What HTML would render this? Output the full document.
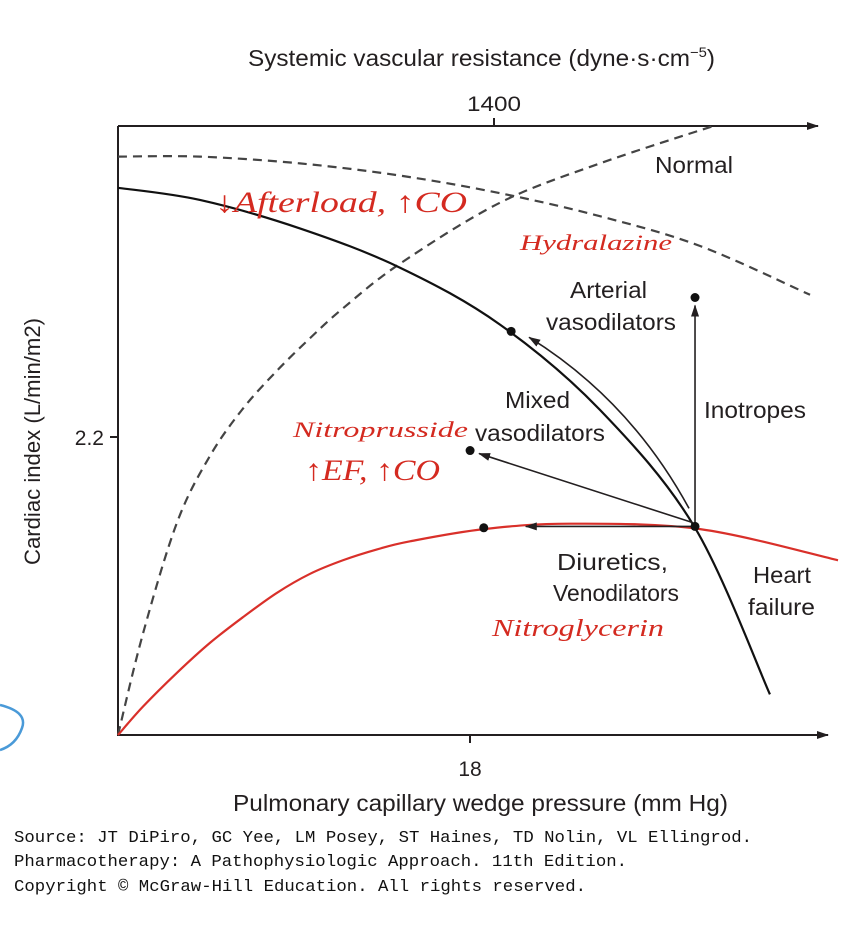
<!DOCTYPE html>
<html><head><meta charset="utf-8"><style>
body{margin:0;background:#fff;width:848px;height:948px;overflow:hidden}
svg{display:block}
.t{font-family:"Liberation Sans",Arial,sans-serif;fill:#231f20}
.m{font-family:"Liberation Mono",monospace;fill:#111;font-size:16.5px}
.h{font-family:"Liberation Serif",serif;font-style:italic;fill:#d42a20}
</style></head><body>
<svg id="chart" width="848" height="948">
<defs>
<marker id="ah" markerWidth="12" markerHeight="8" refX="11" refY="4" orient="auto" markerUnits="userSpaceOnUse"><path d="M0,0 L12,4 L0,8 Z" fill="#231f20"/></marker>
</defs>
<text class="t" x="248" y="66" font-size="23" textLength="467" lengthAdjust="spacingAndGlyphs">Systemic vascular resistance (dyne·s·cm<tspan font-size="14" dy="-9">−5</tspan><tspan dy="9">)</tspan></text>
<text class="t" x="494" y="111" font-size="21" text-anchor="middle" textLength="54" lengthAdjust="spacingAndGlyphs">1400</text>
<line x1="494" y1="118" x2="494" y2="126" stroke="#231f20" stroke-width="2"/>
<line x1="118" y1="126" x2="818" y2="126" stroke="#231f20" stroke-width="2" marker-end="url(#ah)"/>
<line x1="118" y1="126" x2="118" y2="736" stroke="#231f20" stroke-width="2"/>
<line x1="117" y1="735" x2="828" y2="735" stroke="#231f20" stroke-width="2" marker-end="url(#ah)"/>
<line x1="110" y1="437" x2="118" y2="437" stroke="#231f20" stroke-width="2"/>
<text class="t" x="104" y="445" font-size="21" text-anchor="end">2.2</text>
<line x1="470" y1="735" x2="470" y2="743" stroke="#231f20" stroke-width="2"/>
<text class="t" x="470" y="776" font-size="21" text-anchor="middle">18</text>
<text class="t" x="233" y="811" font-size="23" textLength="495" lengthAdjust="spacingAndGlyphs">Pulmonary capillary wedge pressure (mm Hg)</text>
<text class="t" font-size="22" x="-565" y="40" textLength="247" lengthAdjust="spacingAndGlyphs" transform="rotate(-90)">Cardiac index (L/min/m2)</text>
<g id="curves"></g>
<g id="arrows"></g>
<g id="pts"></g>
<text class="t" x="655" y="173" font-size="23" textLength="78" lengthAdjust="spacingAndGlyphs">Normal</text>
<text class="t" x="570" y="298" font-size="23" textLength="77" lengthAdjust="spacingAndGlyphs">Arterial</text>
<text class="t" x="546" y="330" font-size="23" textLength="130" lengthAdjust="spacingAndGlyphs">vasodilators</text>
<text class="t" x="505" y="408" font-size="23" textLength="65" lengthAdjust="spacingAndGlyphs">Mixed</text>
<text class="t" x="475" y="441" font-size="23" textLength="130" lengthAdjust="spacingAndGlyphs">vasodilators</text>
<text class="t" x="704" y="418" font-size="23" textLength="102" lengthAdjust="spacingAndGlyphs">Inotropes</text>
<text class="t" x="557" y="570" font-size="23" textLength="111" lengthAdjust="spacingAndGlyphs">Diuretics,</text>
<text class="t" x="553" y="601" font-size="23" textLength="126" lengthAdjust="spacingAndGlyphs">Venodilators</text>
<text class="t" x="753" y="583" font-size="23" textLength="58" lengthAdjust="spacingAndGlyphs">Heart</text>
<text class="t" x="748" y="615" font-size="23" textLength="67" lengthAdjust="spacingAndGlyphs">failure</text>
<text class="h" x="215" y="212" font-size="30" textLength="252" lengthAdjust="spacingAndGlyphs">↓Afterload, ↑CO</text>
<text class="h" x="520" y="250" font-size="22" textLength="152" lengthAdjust="spacingAndGlyphs">Hydralazine</text>
<text class="h" x="293" y="437" font-size="22" textLength="175" lengthAdjust="spacingAndGlyphs">Nitroprusside</text>
<text class="h" x="305" y="480" font-size="30" textLength="135" lengthAdjust="spacingAndGlyphs">↑EF, ↑CO</text>
<text class="h" x="492" y="636" font-size="24" textLength="172" lengthAdjust="spacingAndGlyphs">Nitroglycerin</text>
<path d="M0,705 Q28,712 22,728 Q16,745 0,750" fill="none" stroke="#4a9ad8" stroke-width="2.5"/>
<text class="m" x="14" y="842" textLength="738" lengthAdjust="spacingAndGlyphs">Source: JT DiPiro, GC Yee, LM Posey, ST Haines, TD Nolin, VL Ellingrod.</text>
<text class="m" x="14" y="866" textLength="613" lengthAdjust="spacingAndGlyphs">Pharmacotherapy: A Pathophysiologic Approach. 11th Edition.</text>
<text class="m" x="14" y="891" textLength="572" lengthAdjust="spacingAndGlyphs">Copyright © McGraw-Hill Education. All rights reserved.</text>
</svg>
<script>
const hfX=[0,4.19,9.3,14.42,19.53,24.64,29.5,33.33];
const hfY=[4.04,3.95,3.74,3.45,3.03,2.40,1.53,0.30];
const normX=[0,4.19,9.3,14.42,19.53,24.64,29.76,35.38];
const normY=[4.27,4.27,4.22,4.13,4.00,3.83,3.61,3.25];
const riseX=[0,1.28,3.02,4.70,6.39,8.13,9.82,11.5,14.42,19.53,24.64,30.52];
const riseY=[0,0.75,1.57,2.06,2.41,2.69,2.93,3.15,3.48,3.93,4.22,4.50];
const redX=[0,1.28,3.02,4.70,6.39,8.13,9.82,11.5,13.24,14.93,18.71,23.11,29.76,36.81];
const redY=[0,0.21,0.46,0.68,0.87,1.05,1.19,1.29,1.37,1.43,1.52,1.56,1.52,1.29];
const ptX=[29.5,20.1,29.5,18.0,18.7];
const ptY=[1.54,2.98,3.23,2.10,1.53];
const sx=v=>118+v*19.56, sy=v=>735-v*135.45;
const NS="http://www.w3.org/2000/svg";
function smooth(xs,ys){const p=xs.map((x,i)=>[sx(x),sy(ys[i])]);let d="M"+p[0];
for(let i=0;i<p.length-1;i++){const a=p[i-1]||p[i],b=p[i],c=p[i+1],e=p[i+2]||c;
d+=" C"+(b[0]+(c[0]-a[0])/6)+","+(b[1]+(c[1]-a[1])/6)+" "+(c[0]-(e[0]-b[0])/6)+","+(c[1]-(e[1]-b[1])/6)+" "+c;}return d;}
function curve(xs,ys,col,dash,name){const el=document.createElementNS(NS,"path");
el.setAttribute("d",smooth(xs,ys));el.setAttribute("fill","none");el.setAttribute("stroke",col);el.setAttribute("stroke-width","2.2");
if(dash)el.setAttribute("stroke-dasharray","9,6");


document.getElementById("curves").appendChild(el);}
curve(normX,normY,"#444",true,"normal-curve");
curve(riseX,riseY,"#444",true,"svr-curve");
curve(redX,redY,"#d9302a",false,"treated-curve");
curve(hfX,hfY,"#111",false,"heart-failure-curve");
function arrow(x1,y1,x2,y2,name){const el=document.createElementNS(NS,"line");
el.setAttribute("x1",x1);el.setAttribute("y1",y1);el.setAttribute("x2",x2);el.setAttribute("y2",y2);
el.setAttribute("stroke","#231f20");el.setAttribute("stroke-width","1.6");el.setAttribute("marker-end","url(#ah)");


document.getElementById("arrows").appendChild(el);}
const ox=sx(ptX[0]),oy=sy(ptY[0]);
arrow(ox,oy,ox,sy(ptY[2])+8,"inotrope-arrow");
arrow(ox,oy,sx(ptX[4])+42,oy,"diuretic-arrow");
arrow(ox-3,oy-4,sx(ptX[3])+9,sy(ptY[3])+3,"mixed-arrow");
const ar=document.createElementNS(NS,"path");
ar.setAttribute("d","M"+(ox-6)+","+(oy-18)+" Q630,400 "+(sx(ptX[1])+18)+","+(sy(ptY[1])+6));
ar.setAttribute("fill","none");ar.setAttribute("stroke","#231f20");ar.setAttribute("stroke-width","1.6");ar.setAttribute("marker-end","url(#ah)");


document.getElementById("arrows").appendChild(ar);
ptX.forEach((x,i)=>{const c=document.createElementNS(NS,"circle");
c.setAttribute("cx",sx(x));c.setAttribute("cy",sy(ptY[i]));c.setAttribute("r","4.5");c.setAttribute("fill","#111");


document.getElementById("pts").appendChild(c);});
</script>
</body></html>
